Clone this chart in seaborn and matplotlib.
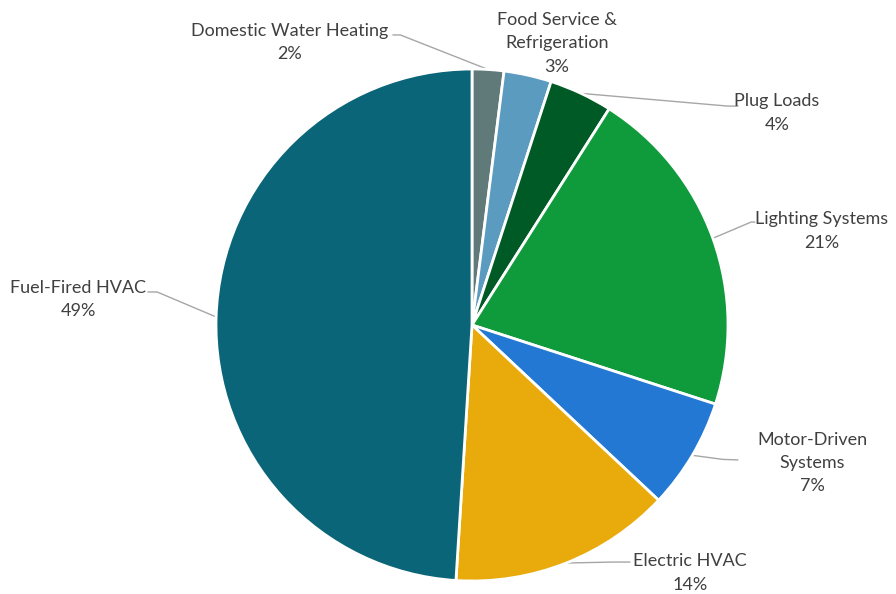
import numpy as np
import matplotlib
matplotlib.use("Agg")
import matplotlib.pyplot as plt
import seaborn as sns

# data (clockwise from 12 o'clock)
categories = ["Domestic Water Heating", "Food Service &\nRefrigeration", "Plug Loads",
              "Lighting Systems", "Motor-Driven\nSystems", "Electric HVAC", "Fuel-Fired HVAC"]
shares = [2, 3, 4, 21, 7, 14, 49]
colors = ["#5F7A78", "#5B9BC0", "#005A25", "#0F9A3C", "#2278D2", "#E8AB0B", "#0B6578"]

# label placement (layout only): text centre, leader end at text, stub end
label_pos = [(-0.711, 1.105), (0.332, 1.10), (1.191, 0.828), (1.367, 0.367),
             (1.328, -0.539), (0.852, -0.969), (-1.539, 0.098)]
leader_pts = [((-0.309, 1.133), (-0.28, 1.133)), None,
              ((1.039, 0.855), (1.00, 0.855)), ((1.105, 0.402), (1.09, 0.402)),
              ((1.039, -0.527), (0.98, -0.525)), ((0.617, -0.926), (0.55, -0.926)),
              ((-1.266, 0.129), (-1.23, 0.129))]

sns.set_style("white")
plt.rcParams["font.family"] = ["Lato", "DejaVu Sans"]

fig = plt.figure(figsize=(8.96, 5.94), dpi=100)
r_px = 256
cx, cy = 472, 325
ax = fig.add_axes([(cx - r_px) / 896, (594 - cy - r_px) / 594, 2 * r_px / 896, 2 * r_px / 594])
ax.pie(shares, colors=colors, startangle=90, counterclock=False,
       wedgeprops=dict(edgecolor="white", linewidth=2))
ax.set_xlim(-1, 1)
ax.set_ylim(-1, 1)
ax.set_aspect("auto")
ax.axis("off")

total = sum(shares)
cum = 0
for name, v, pos, lead in zip(categories, shares, label_pos, leader_pts):
    mid = np.deg2rad((cum + v / 2) / total * 360)
    cum += v
    anchor = (np.sin(mid), np.cos(mid))
    ax.text(pos[0], pos[1], f"{name}\n{v}%", ha="center", va="center",
            fontsize=13, color="#404040", linespacing=1.55, clip_on=False)
    if lead is not None:
        (ex, ey), (sx, sy) = lead
        ax.plot([ex, sx, anchor[0]], [ey, sy, anchor[1]], color="#A6A6A6",
                lw=1, clip_on=False, zorder=0)

fig.savefig("out.png", dpi=100, facecolor="white")
